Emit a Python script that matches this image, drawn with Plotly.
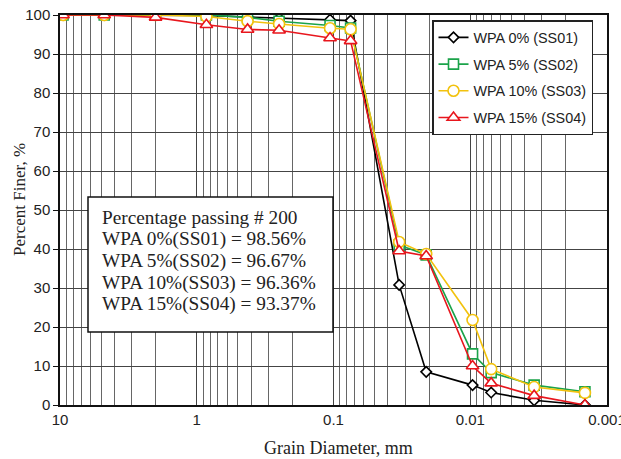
import plotly.graph_objects as go

diameters = [9.5, 4.75, 2.0, 0.85, 0.425, 0.25, 0.106, 0.075,
             0.0331, 0.0210, 0.00962, 0.00703, 0.00341, 0.00145]
ss01 = [100, 100, 100, 99.9, 99.5, 99.2, 98.8, 98.56, 30.8, 8.5, 5.1, 3.2, 1.2, 0.0]
ss02 = [100, 100, 100, 100, 99.4, 98.4, 97.3, 96.67, 41.0, 38.5, 13.1, 8.3, 5.1, 3.4]
ss03 = [100, 100, 100, 99.6, 98.4, 97.7, 96.6, 96.36, 41.8, 38.7, 21.8, 9.2, 4.6, 3.1]
ss04 = [100, 100, 99.4, 97.5, 96.3, 96.1, 94.1, 93.37, 39.5, 38.2, 10.0, 5.6, 2.4, 0.0]

names = ["WPA 0% (SS01)", "WPA 5% (SS02)", "WPA 10% (SS03)", "WPA 15% (SS04)"]
colors = ["#000000", "#1BA34A", "#F2C20E", "#E8161D"]
symbols = ["diamond", "square", "circle", "triangle-up"]
sizes = [8, 10, 11, 11]

x_tickvals = [10, 1, 0.1, 0.01, 0.001]
x_ticktext = ["10", "1", "0.1", "0.01", "0.001"]
minor_mults = [2, 3, 4, 5, 6, 7, 8, 9]
decades = [1, 0.1, 0.01, 0.001]
minor_vals = [m * d for d in decades for m in minor_mults]

x_title = "Grain Diameter, mm"
y_title = "Percent Finer, %"
summary_lines = ["Percentage passing # 200",
                 "WPA 0%(SS01) = 98.56%",
                 "WPA 5%(SS02) = 96.67%",
                 "WPA 10%(SS03) = 96.36%",
                 "WPA 15%(SS04) = 93.37%"]

W, H = 621, 459
ML, MR, MT, MB = 60, 14, 15, 54
PW, PH = W - ML - MR, H - MT - MB
SERIF = "Liberation Serif, Times New Roman"
SANS = "Liberation Sans, Arial"


def px_to_paper_x(px):
    return (px - ML) / PW


def px_to_paper_y(py):
    return (H - MB - py) / PH


fig = go.Figure()
for i, ys in enumerate([ss01, ss02, ss03, ss04]):
    fig.add_trace(go.Scatter(
        x=diameters, y=ys, name=names[i], mode="lines+markers",
        legendgroup=names[i],
        line=dict(color=colors[i], width=1.6),
        marker=dict(symbol=symbols[i], size=sizes[i],
                    color="white", line=dict(color=colors[i], width=1.6)),
    ))

fig.update_layout(
    width=W, height=H,
    margin=dict(l=ML, r=MR, t=MT, b=MB),
    paper_bgcolor="white", plot_bgcolor="white",
    font=dict(family=SANS, size=15, color="#222"),
    showlegend=True,
    legend=dict(x=px_to_paper_x(432), y=px_to_paper_y(20), xanchor="left", yanchor="top",
                bgcolor="white", bordercolor="#222", borderwidth=1.5,
                font=dict(family=SANS, size=14.4, color="#222"),
                tracegroupgap=5),
)
fig.update_xaxes(
    type="log", range=[1, -3], automargin=False,
    tickvals=x_tickvals, ticktext=x_ticktext, ticklabeloverflow="allow",
    showgrid=True, gridcolor="#444", gridwidth=1,
    minor=dict(tickvals=minor_vals, showgrid=True, gridcolor="#666", gridwidth=1),
    showline=True, linecolor="#111", linewidth=1.5, mirror=True,
    ticks="", zeroline=False,
)
fig.update_yaxes(
    range=[0, 100], dtick=10, automargin=False,
    showgrid=True, gridcolor="#444", gridwidth=1,
    showline=True, linecolor="#111", linewidth=1.5, mirror=True,
    ticks="outside", ticklen=5, tickcolor="#111", zeroline=False,
)

# axis titles
fig.add_annotation(xref="paper", yref="paper", x=px_to_paper_x(338), y=px_to_paper_y(459),
                   xanchor="center", yanchor="bottom", text=x_title, showarrow=False,
                   borderpad=0, font=dict(family=SERIF, size=18, color="#222"))
fig.add_annotation(xref="paper", yref="paper", x=px_to_paper_x(19), y=px_to_paper_y(200),
                   xanchor="center", yanchor="middle", text=y_title, showarrow=False,
                   textangle=-90, font=dict(family=SERIF, size=17, color="#222"))

# summary box
fig.add_shape(type="rect", xref="paper", yref="paper",
              x0=px_to_paper_x(88), x1=px_to_paper_x(333),
              y0=px_to_paper_y(332), y1=px_to_paper_y(197),
              line=dict(color="#111", width=1.5), fillcolor="white", layer="above")
line_centers = [218, 239.5, 261, 282.5, 304]
for txt, cy in zip(summary_lines, line_centers):
    fig.add_annotation(
        xref="paper", yref="paper", x=px_to_paper_x(100), y=px_to_paper_y(cy),
        xanchor="left", yanchor="middle", text=txt, showarrow=False,
        font=dict(family=SERIF, size=19.3, color="#222"),
    )

fig.write_html("out.html", config={"displayModeBar": False},
               post_script="document.body.style.margin='0';document.body.style.overflow='hidden';")
